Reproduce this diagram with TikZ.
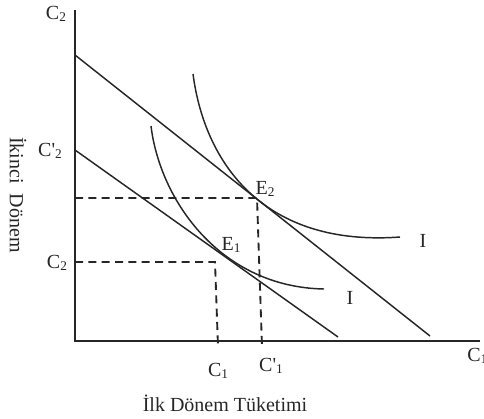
\documentclass[tikz,border=0pt]{standalone}
\usepackage{fontspec}
\setmainfont{Liberation Serif}
\begin{document}
\begin{tikzpicture}[x=0.75pt,y=-0.75pt,
  axisline/.style={line width=1.1pt, color=black!85},
  budget/.style={line width=1.1pt, color=black!85},
  icurve/.style={line width=1.1pt, color=black!85},
  guide/.style={line width=1.4pt, color=black!85, dash pattern=on 6pt off 4pt},
  lbl/.style={inner sep=0pt, font=\fontsize{15}{17}\selectfont, text=black!85}]
\newcommand{\subnum}[1]{\raisebox{-0.25ex}{\fontsize{10}{11}\selectfont #1}}
\useasboundingbox (0,0) rectangle (484,418);
% axes
\coordinate (O) at (75,341);
\coordinate (Ytop) at (75,10);
\coordinate (Xend) at (480,341);
\draw[axisline] (Ytop) -- (O) -- (Xend);
% budget lines
\coordinate (B1s) at (75,55);
\coordinate (B1e) at (430,336);
\coordinate (B2s) at (75,150);
\coordinate (B2e) at (338,337);
\draw[budget] (B1s) -- (B1e);
\draw[budget] (B2s) -- (B2e);
% indifference curves
\coordinate (I1s) at (193,74);
\coordinate (I1e) at (400,237);
\coordinate (I2s) at (151,126);
\coordinate (I2e) at (324,289);
\draw[icurve] (I1s) .. controls (205,165) and (265,247) .. (I1e);
\draw[icurve] (I2s) .. controls (160,200) and (220,287) .. (I2e);
% guides
\coordinate (G1a) at (75,198);
\coordinate (G1b) at (257,198);
\coordinate (G1c) at (262,347);
\coordinate (G2a) at (75,262);
\coordinate (G2b) at (215,262);
\coordinate (G2c) at (218,347);
\draw[guide] (G1a) -- (G1b) -- (G1c);
\draw[guide] (G2a) -- (G2b) -- (G2c);
% labels
\node[lbl] (c2top) at (56,14) {C\subnum{2}};
\node[lbl] (cp2) at (50,151) {C\textquotesingle\subnum{2}};
\node[lbl] (c2low) at (57,263) {C\subnum{2}};
\node[lbl] (c1) at (218,371) {C\subnum{1}};
\node[lbl] (cp1) at (271,366) {C\textquotesingle\subnum{1}};
\node[lbl, anchor=west] (c1r) at (467,356) {C\subnum{1}};
\node[lbl] (xlab) at (225,403) {İlk Dönem Tüketimi};
\node[lbl, rotate=-90] (ylab) at (18,195) {İkinci\ \ Dönem};
\node[lbl] (e2) at (265,189) {E\subnum{2}};
\node[lbl] (e1) at (231,245) {E\subnum{1}};
\node[lbl] (iup) at (423,241) {I};
\node[lbl] (ilow) at (350,298) {I};
\end{tikzpicture}
\end{document}
